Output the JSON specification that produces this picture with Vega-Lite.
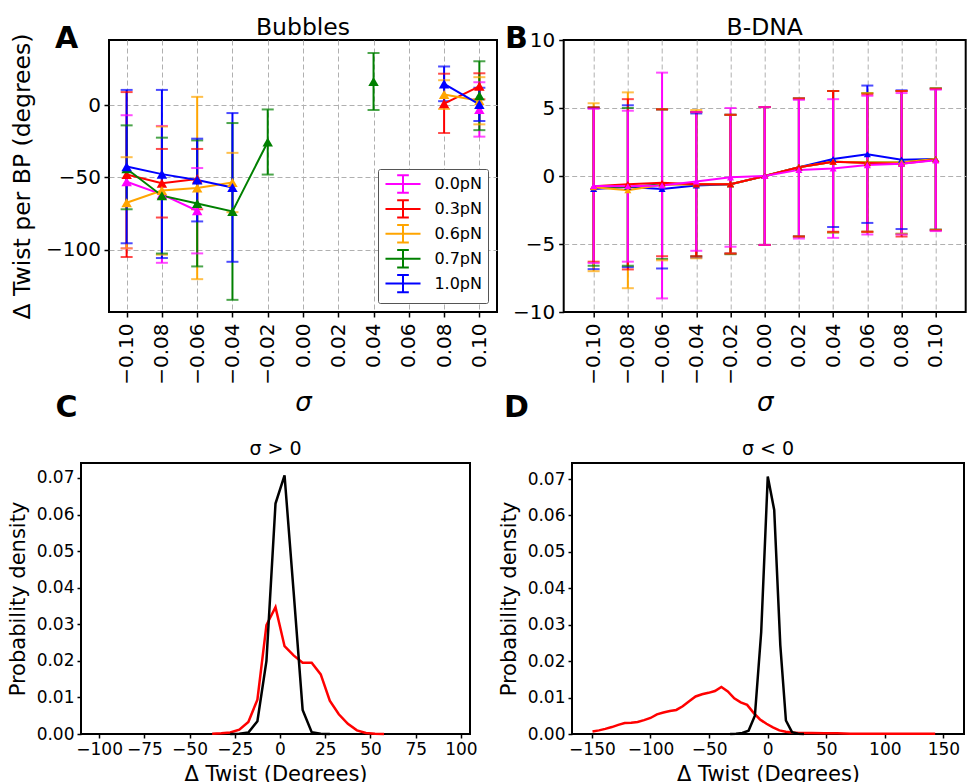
{
  "$schema": "https://vega.github.io/schema/vega-lite/v6.json",
  "background": "white",
  "padding": {"left": 6, "top": 14, "right": 0, "bottom": 0},
  "config": {
    "font": "DejaVu Sans",
    "view": {"stroke": "black", "strokeWidth": 2},
    "axis": {"domain": false, "tickColor": "black", "tickWidth": 1.5, "tickSize": 5, "labelColor": "black", "titleColor": "black", "titleFontWeight": "normal", "labelFlush": false, "labelOverlap": false, "gridColor": "#b0b0b0", "gridDash": [5, 3], "gridWidth": 1},
    "title": {"fontWeight": "normal", "color": "black"}
  },
  "resolve": {"scale": {"color": "independent"}, "legend": {"color": "independent"}},
  "datasets": {
    "bubbles": [
      {"f": "0.0pN", "s": -0.1, "m": -53, "lo": -99, "hi": -7, "g": 1},
      {"f": "0.0pN", "s": -0.08, "m": -61.7, "lo": -109, "hi": -14.4, "g": 1},
      {"f": "0.0pN", "s": -0.06, "m": -73, "lo": -102.5, "hi": -43.5, "g": 1},
      {"f": "0.0pN", "s": 0.1, "m": -3, "lo": -21.8, "hi": 15.8, "g": 2},
      {"f": "0.3pN", "s": -0.1, "m": -48, "lo": -105, "hi": 9, "g": 1},
      {"f": "0.3pN", "s": -0.08, "m": -54, "lo": -77.7, "hi": -30.3, "g": 1},
      {"f": "0.3pN", "s": -0.06, "m": -51, "lo": -72, "hi": -30.3, "g": 1},
      {"f": "0.3pN", "s": 0.08, "m": 1, "lo": -19.3, "hi": 21.7, "g": 2},
      {"f": "0.3pN", "s": 0.1, "m": 13, "lo": 4, "hi": 22, "g": 2},
      {"f": "0.6pN", "s": -0.1, "m": -67.5, "lo": -99, "hi": -36, "g": 1},
      {"f": "0.6pN", "s": -0.08, "m": -59, "lo": -103.4, "hi": -14.8, "g": 1},
      {"f": "0.6pN", "s": -0.06, "m": -57.3, "lo": -120.3, "hi": 5.7, "g": 1},
      {"f": "0.6pN", "s": -0.04, "m": -53.5, "lo": -74, "hi": -33, "g": 1},
      {"f": "0.6pN", "s": 0.08, "m": 7.3, "lo": -2.7, "hi": 17.2, "g": 2},
      {"f": "0.6pN", "s": 0.1, "m": 3, "lo": -13.3, "hi": 19.3, "g": 2},
      {"f": "0.7pN", "s": -0.1, "m": -44, "lo": -72, "hi": -14, "g": 1},
      {"f": "0.7pN", "s": -0.08, "m": -62.6, "lo": -102.6, "hi": -22.5, "g": 1},
      {"f": "0.7pN", "s": -0.06, "m": -68, "lo": -111.5, "hi": -24.4, "g": 1},
      {"f": "0.7pN", "s": -0.04, "m": -73.5, "lo": -134.6, "hi": -12.4, "g": 1},
      {"f": "0.7pN", "s": -0.02, "m": -25.5, "lo": -48, "hi": -3, "g": 1},
      {"f": "0.7pN", "s": 0.04, "m": 16.3, "lo": -3.4, "hi": 36, "g": 2},
      {"f": "0.7pN", "s": 0.1, "m": 6.5, "lo": -17.3, "hi": 30.3, "g": 3},
      {"f": "1.0pN", "s": -0.1, "m": -42.5, "lo": -95.5, "hi": 10.5, "g": 1},
      {"f": "1.0pN", "s": -0.08, "m": -47.7, "lo": -105.7, "hi": 10.5, "g": 1},
      {"f": "1.0pN", "s": -0.06, "m": -51.8, "lo": -80.4, "hi": -23.2, "g": 1},
      {"f": "1.0pN", "s": -0.04, "m": -56.9, "lo": -108.3, "hi": -5.5, "g": 1},
      {"f": "1.0pN", "s": 0.08, "m": 14.7, "lo": 2.7, "hi": 26.7, "g": 2},
      {"f": "1.0pN", "s": 0.1, "m": 0.5, "lo": -11, "hi": 12, "g": 2}
    ],
    "bdna": [
      {"f": "1.0pN", "s": -0.1, "m": -0.95, "lo": -6.85, "hi": 5.0},
      {"f": "1.0pN", "s": -0.08, "m": -0.8, "lo": -6.7, "hi": 5.2},
      {"f": "1.0pN", "s": -0.06, "m": -0.95, "lo": -6.8, "hi": 4.9},
      {"f": "1.0pN", "s": -0.04, "m": -0.7, "lo": -6.0, "hi": 4.6},
      {"f": "1.0pN", "s": -0.02, "m": -0.6, "lo": -5.7, "hi": 4.5},
      {"f": "1.0pN", "s": 0, "m": 0, "lo": -5.07, "hi": 5.07},
      {"f": "1.0pN", "s": 0.02, "m": 0.65, "lo": -4.45, "hi": 5.7},
      {"f": "1.0pN", "s": 0.04, "m": 1.25, "lo": -3.75, "hi": 6.25},
      {"f": "1.0pN", "s": 0.06, "m": 1.6, "lo": -3.45, "hi": 6.65},
      {"f": "1.0pN", "s": 0.08, "m": 1.2, "lo": -3.9, "hi": 6.3},
      {"f": "1.0pN", "s": 0.1, "m": 1.25, "lo": -3.95, "hi": 6.45},
      {"f": "0.7pN", "s": -0.1, "m": -0.78, "lo": -6.6, "hi": 5.05},
      {"f": "0.7pN", "s": -0.08, "m": -0.8, "lo": -6.6, "hi": 5.0},
      {"f": "0.7pN", "s": -0.06, "m": -0.6, "lo": -6.1, "hi": 4.9},
      {"f": "0.7pN", "s": -0.04, "m": -0.6, "lo": -5.9, "hi": 4.7},
      {"f": "0.7pN", "s": -0.02, "m": -0.6, "lo": -5.75, "hi": 4.5},
      {"f": "0.7pN", "s": 0, "m": 0, "lo": -5.07, "hi": 5.07},
      {"f": "0.7pN", "s": 0.02, "m": 0.65, "lo": -4.45, "hi": 5.7},
      {"f": "0.7pN", "s": 0.04, "m": 1.05, "lo": -4.15, "hi": 6.25},
      {"f": "0.7pN", "s": 0.06, "m": 1.0, "lo": -4.1, "hi": 6.1},
      {"f": "0.7pN", "s": 0.08, "m": 1.0, "lo": -4.25, "hi": 6.25},
      {"f": "0.7pN", "s": 0.1, "m": 1.25, "lo": -3.95, "hi": 6.45},
      {"f": "0.6pN", "s": -0.1, "m": -0.82, "lo": -7.0, "hi": 5.35},
      {"f": "0.6pN", "s": -0.08, "m": -1.05, "lo": -8.25, "hi": 6.15},
      {"f": "0.6pN", "s": -0.06, "m": -0.65, "lo": -6.2, "hi": 4.9},
      {"f": "0.6pN", "s": -0.04, "m": -0.6, "lo": -6.05, "hi": 4.85},
      {"f": "0.6pN", "s": -0.02, "m": -0.6, "lo": -5.7, "hi": 4.5},
      {"f": "0.6pN", "s": 0, "m": 0, "lo": -5.07, "hi": 5.07},
      {"f": "0.6pN", "s": 0.02, "m": 0.65, "lo": -4.45, "hi": 5.7},
      {"f": "0.6pN", "s": 0.04, "m": 1.05, "lo": -4.15, "hi": 6.25},
      {"f": "0.6pN", "s": 0.06, "m": 1.0, "lo": -4.1, "hi": 6.1},
      {"f": "0.6pN", "s": 0.08, "m": 1.0, "lo": -4.25, "hi": 6.25},
      {"f": "0.6pN", "s": 0.1, "m": 1.25, "lo": -3.95, "hi": 6.45},
      {"f": "0.3pN", "s": -0.1, "m": -0.75, "lo": -6.3, "hi": 5.05},
      {"f": "0.3pN", "s": -0.08, "m": -0.6, "lo": -6.87, "hi": 5.65},
      {"f": "0.3pN", "s": -0.06, "m": -0.5, "lo": -5.9, "hi": 4.9},
      {"f": "0.3pN", "s": -0.04, "m": -0.6, "lo": -5.9, "hi": 4.7},
      {"f": "0.3pN", "s": -0.02, "m": -0.6, "lo": -5.7, "hi": 4.5},
      {"f": "0.3pN", "s": 0, "m": 0, "lo": -5.07, "hi": 5.07},
      {"f": "0.3pN", "s": 0.02, "m": 0.65, "lo": -4.45, "hi": 5.7},
      {"f": "0.3pN", "s": 0.04, "m": 1.05, "lo": -4.1, "hi": 6.25},
      {"f": "0.3pN", "s": 0.06, "m": 0.95, "lo": -4.1, "hi": 6.0},
      {"f": "0.3pN", "s": 0.08, "m": 0.9, "lo": -4.45, "hi": 6.25},
      {"f": "0.3pN", "s": 0.1, "m": 1.2, "lo": -4.0, "hi": 6.4},
      {"f": "0.0pN", "s": -0.1, "m": -0.73, "lo": -6.4, "hi": 4.94},
      {"f": "0.0pN", "s": -0.08, "m": -0.75, "lo": -6.3, "hi": 4.8},
      {"f": "0.0pN", "s": -0.06, "m": -0.7, "lo": -9.0, "hi": 7.6},
      {"f": "0.0pN", "s": -0.04, "m": -0.4, "lo": -5.5, "hi": 4.7},
      {"f": "0.0pN", "s": -0.02, "m": -0.1, "lo": -5.2, "hi": 5.0},
      {"f": "0.0pN", "s": 0, "m": 0, "lo": -5.07, "hi": 5.07},
      {"f": "0.0pN", "s": 0.02, "m": 0.45, "lo": -4.6, "hi": 5.6},
      {"f": "0.0pN", "s": 0.04, "m": 0.55, "lo": -4.55, "hi": 5.65},
      {"f": "0.0pN", "s": 0.06, "m": 0.8, "lo": -4.3, "hi": 5.9},
      {"f": "0.0pN", "s": 0.08, "m": 0.9, "lo": -4.3, "hi": 6.1},
      {"f": "0.0pN", "s": 0.1, "m": 1.15, "lo": -4.05, "hi": 6.35}
    ],
    "pos": [
      {"k": "Bubbles", "x": -37.5, "y": 0.0001},
      {"k": "Bubbles", "x": -32.5, "y": 0.0002},
      {"k": "Bubbles", "x": -27.5, "y": 0.0004},
      {"k": "Bubbles", "x": -22.5, "y": 0.0012},
      {"k": "Bubbles", "x": -17.5, "y": 0.0033},
      {"k": "Bubbles", "x": -12.5, "y": 0.0094},
      {"k": "Bubbles", "x": -7.5, "y": 0.0298},
      {"k": "Bubbles", "x": -2.5, "y": 0.0347},
      {"k": "Bubbles", "x": 2.5, "y": 0.024},
      {"k": "Bubbles", "x": 7.5, "y": 0.0215},
      {"k": "Bubbles", "x": 12.5, "y": 0.0195},
      {"k": "Bubbles", "x": 17.5, "y": 0.0195},
      {"k": "Bubbles", "x": 22.5, "y": 0.0163},
      {"k": "Bubbles", "x": 27.5, "y": 0.0091},
      {"k": "Bubbles", "x": 32.5, "y": 0.0054},
      {"k": "Bubbles", "x": 37.5, "y": 0.0028},
      {"k": "Bubbles", "x": 42.5, "y": 0.001},
      {"k": "Bubbles", "x": 47.5, "y": 0.0003},
      {"k": "Bubbles", "x": 52.5, "y": 0.0001},
      {"k": "Bubbles", "x": 57.5, "y": 0},
      {"k": "B-DNA", "x": -27.5, "y": 0},
      {"k": "B-DNA", "x": -22.5, "y": 0.0001},
      {"k": "B-DNA", "x": -17.5, "y": 0.0004},
      {"k": "B-DNA", "x": -12.5, "y": 0.0035},
      {"k": "B-DNA", "x": -7.5, "y": 0.02},
      {"k": "B-DNA", "x": -2.5, "y": 0.063},
      {"k": "B-DNA", "x": 2.5, "y": 0.0707},
      {"k": "B-DNA", "x": 7.5, "y": 0.039},
      {"k": "B-DNA", "x": 12.5, "y": 0.0066},
      {"k": "B-DNA", "x": 17.5, "y": 0.0005},
      {"k": "B-DNA", "x": 22.5, "y": 0.0001},
      {"k": "B-DNA", "x": 27.5, "y": 0}
    ],
    "neg": [
      {"k": "Bubbles", "x": -149.5, "y": 0.0007},
      {"k": "Bubbles", "x": -144, "y": 0.001},
      {"k": "Bubbles", "x": -138.6, "y": 0.0014},
      {"k": "Bubbles", "x": -133, "y": 0.0019},
      {"k": "Bubbles", "x": -127.5, "y": 0.0025},
      {"k": "Bubbles", "x": -122, "y": 0.003},
      {"k": "Bubbles", "x": -116.5, "y": 0.0031},
      {"k": "Bubbles", "x": -111, "y": 0.0033},
      {"k": "Bubbles", "x": -105.5, "y": 0.0038},
      {"k": "Bubbles", "x": -100, "y": 0.0044},
      {"k": "Bubbles", "x": -94.5, "y": 0.0054},
      {"k": "Bubbles", "x": -89, "y": 0.0059},
      {"k": "Bubbles", "x": -83.5, "y": 0.0063},
      {"k": "Bubbles", "x": -78, "y": 0.0066},
      {"k": "Bubbles", "x": -72.5, "y": 0.0076},
      {"k": "Bubbles", "x": -67, "y": 0.009},
      {"k": "Bubbles", "x": -61.5, "y": 0.0103},
      {"k": "Bubbles", "x": -56, "y": 0.0109},
      {"k": "Bubbles", "x": -50.5, "y": 0.0113},
      {"k": "Bubbles", "x": -45, "y": 0.0118},
      {"k": "Bubbles", "x": -39.5, "y": 0.0129},
      {"k": "Bubbles", "x": -34, "y": 0.0117},
      {"k": "Bubbles", "x": -28.5, "y": 0.0098},
      {"k": "Bubbles", "x": -23, "y": 0.0087},
      {"k": "Bubbles", "x": -17.5, "y": 0.008},
      {"k": "Bubbles", "x": -12, "y": 0.0058},
      {"k": "Bubbles", "x": -6.5, "y": 0.004},
      {"k": "Bubbles", "x": -1, "y": 0.0028},
      {"k": "Bubbles", "x": 4.5, "y": 0.0018},
      {"k": "Bubbles", "x": 10, "y": 0.001},
      {"k": "Bubbles", "x": 15.5, "y": 0.0006},
      {"k": "Bubbles", "x": 21, "y": 0.0004},
      {"k": "Bubbles", "x": 26.5, "y": 0.0003},
      {"k": "Bubbles", "x": 37.5, "y": 0.0003},
      {"k": "Bubbles", "x": 48.5, "y": 0.0002},
      {"k": "Bubbles", "x": 59.5, "y": 0.0002},
      {"k": "Bubbles", "x": 70.5, "y": 0.0001},
      {"k": "Bubbles", "x": 81.5, "y": 0.0001},
      {"k": "Bubbles", "x": 92.5, "y": 0.0001},
      {"k": "Bubbles", "x": 103.5, "y": 0.0001},
      {"k": "Bubbles", "x": 114.5, "y": 0.0001},
      {"k": "Bubbles", "x": 125.5, "y": 0.0001},
      {"k": "Bubbles", "x": 136.5, "y": 0.0001},
      {"k": "Bubbles", "x": 143, "y": 0.0001},
      {"k": "B-DNA", "x": -32, "y": 0},
      {"k": "B-DNA", "x": -27, "y": 0.0001},
      {"k": "B-DNA", "x": -21.6, "y": 0.0003},
      {"k": "B-DNA", "x": -16.3, "y": 0.0009},
      {"k": "B-DNA", "x": -10.9, "y": 0.005},
      {"k": "B-DNA", "x": -5.5, "y": 0.028},
      {"k": "B-DNA", "x": 0.1, "y": 0.0707},
      {"k": "B-DNA", "x": 5.6, "y": 0.0615},
      {"k": "B-DNA", "x": 10.8, "y": 0.0244},
      {"k": "B-DNA", "x": 15.6, "y": 0.0037},
      {"k": "B-DNA", "x": 20.8, "y": 0.0005},
      {"k": "B-DNA", "x": 26, "y": 0.0001},
      {"k": "B-DNA", "x": 31, "y": 0}
    ]
  },
  "vconcat": [
    {
      "bounds": "flush",
      "spacing": 0,
      "resolve": {"scale": {"color": "independent"}, "legend": {"color": "independent"}},
      "hconcat": [
        {"width": 28, "height": 1, "view": {"stroke": null}, "data": {"values": []}, "mark": {"type": "point", "opacity": 0}, "encoding": {}},
        {
          "bounds": "flush",
          "spacing": 66.7,
          "resolve": {"scale": {"color": "independent"}, "legend": {"color": "independent"}},
          "hconcat": [
            {
              "width": 388, "height": 272,
              "title": {"text": "Bubbles", "fontSize": 23.5, "offset": 2, "dy": 41.5, "baseline": "bottom", "frame": "group", "anchor": "middle"},
              "data": {"name": "bubbles"},
              "encoding": {
                "x": {"field": "s", "type": "quantitative", "scale": {"domain": [-0.11, 0.11], "nice": false, "zero": false}, "axis": null},
                "y": {"field": "m", "type": "quantitative", "scale": {"domain": [-143, 45], "nice": false, "zero": false}, "title": "Δ Twist per BP (degrees)",
                  "axis": {"orient": "left", "values": [-100, -50, 0], "labelFontSize": 20, "labelPadding": 3.5, "titleFontSize": 23.5, "titlePadding": 11, "grid": true}},
                "color": {"field": "f", "type": "nominal", "scale": {"domain": ["0.0pN", "0.3pN", "0.6pN", "0.7pN", "1.0pN"], "range": ["#ff00ff", "#ff0000", "#ffa500", "#008000", "#0000ff"]}, "legend": null}
              },
              "layer": [
                {"mark": {"type": "rule", "strokeWidth": 2},
                 "encoding": {
                   "x": {"field": "s", "type": "quantitative", "title": "σ",
                     "axis": {"orient": "bottom", "values": [-0.1, -0.08, -0.06, -0.04, -0.02, 0, 0.02, 0.04, 0.06, 0.08, 0.1], "format": ".2f", "labelAngle": -90, "labelFontSize": 20, "labelPadding": 6, "titleFontSize": 26, "titleFontStyle": "italic", "titlePadding": 5.5, "grid": true}},
                   "y": {"field": "lo", "type": "quantitative", "scale": {"domain": [-143, 45], "nice": false, "zero": false}, "title": "Δ Twist per BP (degrees)",
                     "axis": {"orient": "left", "values": [-100, -50, 0], "labelFontSize": 20, "labelPadding": 3.5, "titleFontSize": 23.5, "titlePadding": 11, "grid": true}},
                   "y2": {"field": "hi"},
                   "color": {"field": "f", "type": "nominal", "scale": {"domain": ["0.0pN", "0.3pN", "0.6pN", "0.7pN", "1.0pN"], "range": ["#ff00ff", "#ff0000", "#ffa500", "#008000", "#0000ff"]},
                     "legend": {"title": null, "orient": "bottom-right", "offset": 9, "padding": 6, "fillColor": "white", "strokeColor": "#555555", "cornerRadius": 2, "labelFontSize": 16, "labelColor": "black", "symbolType": "M-2.19,0H2.19M0,-1.09V1.09M-0.73,-1.09H0.73M-0.73,1.09H0.73", "symbolSize": 256, "symbolStrokeWidth": 2, "symbolOffset": 10, "labelOffset": 22.4, "rowPadding": -1.1, "symbolFillColor": "transparent"}}
                 }},
                {"mark": {"type": "tick", "orient": "horizontal", "size": 12, "thickness": 2},
                 "encoding": {"y": {"field": "lo", "type": "quantitative", "scale": {"domain": [-143, 45], "nice": false, "zero": false}, "title": "Δ Twist per BP (degrees)",
                   "axis": {"orient": "left", "values": [-100, -50, 0], "labelFontSize": 20, "labelPadding": 3.5, "titleFontSize": 23.5, "titlePadding": 11, "grid": true}}}},
                {"mark": {"type": "tick", "orient": "horizontal", "size": 12, "thickness": 2},
                 "encoding": {"y": {"field": "hi", "type": "quantitative", "scale": {"domain": [-143, 45], "nice": false, "zero": false}, "title": "Δ Twist per BP (degrees)",
                   "axis": {"orient": "left", "values": [-100, -50, 0], "labelFontSize": 20, "labelPadding": 3.5, "titleFontSize": 23.5, "titlePadding": 11, "grid": true}}}},
                {"mark": {"type": "line", "strokeWidth": 2},
                 "encoding": {"detail": {"field": "g", "type": "nominal"}}},
                {"mark": {"type": "point", "shape": "triangle-up", "filled": true, "size": 110, "opacity": 1}},
                {"data": {"values": []},
                 "mark": {"type": "point", "opacity": 0},
                 "encoding": {
                   "x": {"field": "s", "type": "quantitative", "title": "A",
                     "axis": {"orient": "top", "labels": false, "ticks": false, "domain": false, "grid": false, "titleFontSize": 30, "titleFontWeight": "bold", "titleAngle": 0, "titleX": -43, "titleY": 7.7, "titleAlign": "center", "titleBaseline": "alphabetic"}},
                   "color": {"value": "black"}
                 }}
              ]
            },
            {
              "width": 402, "height": 272,
              "title": {"text": "B-DNA", "fontSize": 23.5, "offset": 2, "dy": 41.5, "baseline": "bottom", "frame": "group", "anchor": "middle"},
              "data": {"name": "bdna"},
              "encoding": {
                "x": {"field": "s", "type": "quantitative", "scale": {"domain": [-0.1175, 0.1175], "nice": false, "zero": false}, "axis": null},
                "y": {"field": "m", "type": "quantitative", "scale": {"domain": [-10, 10], "nice": false, "zero": false}, "title": null,
                  "axis": {"orient": "left", "values": [-10, -5, 0, 5, 10], "labelFontSize": 20, "labelPadding": 4, "grid": true, "gridOpacity": {"condition": {"test": "abs(datum.value) >= 10", "value": 0}, "value": 1}}},
                "color": {"field": "f", "type": "nominal", "scale": {"domain": ["0.0pN", "0.3pN", "0.6pN", "0.7pN", "1.0pN"], "range": ["#ff00ff", "#ff0000", "#ffa500", "#008000", "#0000ff"]}, "legend": null}
              },
              "layer": [
                {"mark": {"type": "rule", "strokeWidth": 2},
                 "encoding": {
                   "x": {"field": "s", "type": "quantitative", "title": "σ",
                     "axis": {"orient": "bottom", "values": [-0.1, -0.08, -0.06, -0.04, -0.02, 0, 0.02, 0.04, 0.06, 0.08, 0.1], "format": ".2f", "labelAngle": -90, "labelFontSize": 20, "labelPadding": 6, "titleFontSize": 26, "titleFontStyle": "italic", "titlePadding": 5.5, "grid": true}},
                   "y": {"field": "lo", "type": "quantitative", "scale": {"domain": [-10, 10], "nice": false, "zero": false}, "title": null,
                     "axis": {"orient": "left", "values": [-10, -5, 0, 5, 10], "labelFontSize": 20, "labelPadding": 4, "grid": true, "gridOpacity": {"condition": {"test": "abs(datum.value) >= 10", "value": 0}, "value": 1}}},
                   "y2": {"field": "hi"}
                 }},
                {"mark": {"type": "tick", "orient": "horizontal", "size": 12, "thickness": 2},
                 "encoding": {"y": {"field": "lo", "type": "quantitative", "scale": {"domain": [-10, 10], "nice": false, "zero": false}, "title": null,
                   "axis": {"orient": "left", "values": [-10, -5, 0, 5, 10], "labelFontSize": 20, "labelPadding": 4, "grid": true, "gridOpacity": {"condition": {"test": "abs(datum.value) >= 10", "value": 0}, "value": 1}}}}},
                {"mark": {"type": "tick", "orient": "horizontal", "size": 12, "thickness": 2},
                 "encoding": {"y": {"field": "hi", "type": "quantitative", "scale": {"domain": [-10, 10], "nice": false, "zero": false}, "title": null,
                   "axis": {"orient": "left", "values": [-10, -5, 0, 5, 10], "labelFontSize": 20, "labelPadding": 4, "grid": true, "gridOpacity": {"condition": {"test": "abs(datum.value) >= 10", "value": 0}, "value": 1}}}}},
                {"mark": {"type": "line", "strokeWidth": 2}},
                {"mark": {"type": "point", "shape": "triangle-up", "filled": true, "size": 50, "opacity": 1}},
                {"data": {"values": []},
                 "mark": {"type": "point", "opacity": 0},
                 "encoding": {
                   "x": {"field": "s", "type": "quantitative", "title": "B",
                     "axis": {"orient": "top", "labels": false, "ticks": false, "domain": false, "grid": false, "titleFontSize": 30, "titleFontWeight": "bold", "titleAngle": 0, "titleX": -47.7, "titleY": 7.7, "titleAlign": "center", "titleBaseline": "alphabetic"}},
                   "color": {"value": "black"}
                 }}
              ]
            }
          ]
        }
      ]
    },
    {
      "bounds": "flush",
      "spacing": 102,
      "resolve": {"scale": {"color": "independent"}, "legend": {"color": "independent"}},
      "hconcat": [
        {
          "width": 389, "height": 271,
          "title": {"text": "σ > 0", "fontSize": 19, "offset": 2, "dy": 88, "baseline": "bottom", "frame": "group", "anchor": "middle"},
          "data": {"name": "pos"},
          "encoding": {
            "x": {"field": "x", "type": "quantitative", "scale": {"domain": [-110, 105], "nice": false, "zero": false}, "axis": null},
            "y": {"field": "y", "type": "quantitative", "scale": {"domain": [0, 0.0741], "nice": false, "zero": false}, "title": "Probability density",
              "axis": {"orient": "left", "values": [0, 0.01, 0.02, 0.03, 0.04, 0.05, 0.06, 0.07], "format": ".2f", "labelFontSize": 17, "labelPadding": 3, "tickSize": 4, "titleFontSize": 21, "titlePadding": 7.7, "grid": false}}
          },
          "layer": [
            {"mark": {"type": "line", "strokeWidth": 2.5},
             "encoding": {
               "x": {"field": "x", "type": "quantitative", "title": "Δ Twist (Degrees)",
                 "axis": {"orient": "bottom", "values": [-100, -75, -50, -25, 0, 25, 50, 75, 100], "labelFontSize": 17, "labelPadding": 3, "tickSize": 4, "titleFontSize": 21, "titlePadding": 6, "grid": false}},
               "color": {"field": "k", "type": "nominal", "scale": {"domain": ["Bubbles", "B-DNA"], "range": ["#ff0000", "#000000"]}, "legend": null}
             }},
            {"data": {"values": []},
             "mark": {"type": "point", "opacity": 0},
             "encoding": {
               "x": {"field": "x", "type": "quantitative", "title": "C",
                 "axis": {"orient": "top", "labels": false, "ticks": false, "domain": false, "grid": false, "titleFontSize": 30, "titleFontWeight": "bold", "titleAngle": 0, "titleX": -15, "titleY": -46.7, "titleAlign": "center", "titleBaseline": "alphabetic"}}
             }}
          ]
        },
        {
          "width": 392, "height": 271,
          "title": {"text": "σ < 0", "fontSize": 19, "offset": 2, "dy": 88, "baseline": "bottom", "frame": "group", "anchor": "middle"},
          "data": {"name": "neg"},
          "encoding": {
            "x": {"field": "x", "type": "quantitative", "scale": {"domain": [-167, 167.6], "nice": false, "zero": false}, "axis": null},
            "y": {"field": "y", "type": "quantitative", "scale": {"domain": [0, 0.0744], "nice": false, "zero": false}, "title": "Probability density",
              "axis": {"orient": "left", "values": [0, 0.01, 0.02, 0.03, 0.04, 0.05, 0.06, 0.07], "format": ".2f", "labelFontSize": 17, "labelPadding": 3, "tickSize": 4, "titleFontSize": 21, "titlePadding": 7.7, "grid": false}}
          },
          "layer": [
            {"mark": {"type": "line", "strokeWidth": 2.5},
             "encoding": {
               "x": {"field": "x", "type": "quantitative", "title": "Δ Twist (Degrees)",
                 "axis": {"orient": "bottom", "values": [-150, -100, -50, 0, 50, 100, 150], "labelFontSize": 17, "labelPadding": 3, "tickSize": 4, "titleFontSize": 21, "titlePadding": 6, "grid": false}},
               "color": {"field": "k", "type": "nominal", "scale": {"domain": ["Bubbles", "B-DNA"], "range": ["#ff0000", "#000000"]}, "legend": null}
             }},
            {"data": {"values": []},
             "mark": {"type": "point", "opacity": 0},
             "encoding": {
               "x": {"field": "x", "type": "quantitative", "title": "D",
                 "axis": {"orient": "top", "labels": false, "ticks": false, "domain": false, "grid": false, "titleFontSize": 30, "titleFontWeight": "bold", "titleAngle": 0, "titleX": -56, "titleY": -46.7, "titleAlign": "center", "titleBaseline": "alphabetic"}}
             }}
          ]
        }
      ]
    }
  ],
  "spacing": -26
}
